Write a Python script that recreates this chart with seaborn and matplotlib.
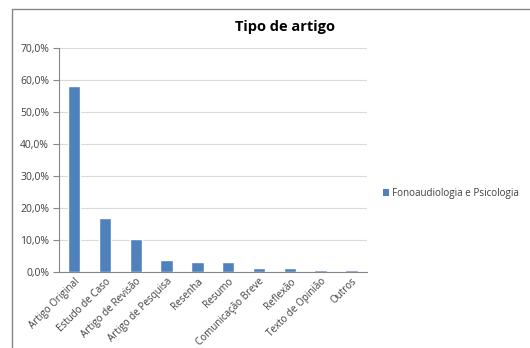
import matplotlib
matplotlib.use("Agg")
import matplotlib.pyplot as plt
import seaborn as sns
import pandas as pd
from matplotlib.lines import Line2D
from matplotlib.patches import Patch
from matplotlib.ticker import FuncFormatter, MultipleLocator

categories = ["Artigo Original", "Estudo de Caso", "Artigo de Revisão", "Artigo de Pesquisa",
              "Resenha", "Resumo", "Comunicação Breve", "Reflexão", "Texto de Opinião", "Outros"]
values = [58.1, 16.8, 10.3, 3.8, 3.1, 3.1, 1.1, 1.1, 0.6, 0.6]
series_name = "Fonoaudiologia e Psicologia"
title = "Tipo de artigo"

sns.set_theme(style="white")
plt.rcParams['font.family'] = ['Open Sans', 'DejaVu Sans']

df = pd.DataFrame({"cat": categories, "val": values})
fig = plt.figure(figsize=(5.3, 3.48), dpi=100)
ax = fig.add_axes([0.111, 0.2184, 0.581, 0.6446])
color = "#4F81BD"
sns.barplot(data=df, x="cat", y="val", color=color, width=0.4, ax=ax, saturation=1)

ax.set_ylim(0, 70)
ax.set_xlim(-0.5, len(categories) - 0.5)
ax.yaxis.set_major_locator(MultipleLocator(10))
ax.yaxis.set_major_formatter(FuncFormatter(lambda v, p: f"{v:.1f}%".replace(".", ",")))
ax.grid(axis="y", color="#D9D9D9", linewidth=0.8)
ax.set_axisbelow(True)
for s in ["top", "right"]:
    ax.spines[s].set_visible(False)
for s in ["left", "bottom"]:
    ax.spines[s].set_color("#868686")
    ax.spines[s].set_linewidth(0.8)
ax.set_xlabel("")
ax.set_ylabel("")
ax.set_xticks(range(len(categories)))
ax.set_xticklabels(categories, rotation=45, ha="right", rotation_mode="anchor",
                   fontsize=7.1, color="#404040")
ax.tick_params(axis="x", length=0, pad=3)
ax.set_xticks([i + 0.5 for i in range(-1, len(categories))], minor=True)
ax.tick_params(axis="x", which="minor", length=4, color="#868686", width=0.8, direction="out")
ax.tick_params(axis="y", labelsize=7.5, labelcolor="#404040", length=4, color="#868686",
               width=0.8, direction="out", left=True, pad=3)

fig.text(0.538, 0.922, title, ha="center", va="center", fontsize=10.5, fontweight="bold", color="black")

leg = fig.legend(handles=[Patch(facecolor=color, edgecolor="none", label=series_name)],
                 loc="center left", bbox_to_anchor=(0.718, 0.445), frameon=False,
                 fontsize=7.1, handlelength=0.7, handleheight=0.7, handletextpad=0.3,
                 borderaxespad=0, borderpad=0.2)
for t in leg.get_texts():
    t.set_color("#404040")

# outer frame lines
fig.add_artist(Line2D([11.5 / 530, 11.5 / 530], [0, 1 - 9 / 348], color="#868686", linewidth=1,
                      transform=fig.transFigure))
fig.add_artist(Line2D([11.5 / 530, 1], [1 - 9 / 348, 1 - 9 / 348], color="#868686", linewidth=1,
                      transform=fig.transFigure))

fig.savefig("out.png", dpi=100)
